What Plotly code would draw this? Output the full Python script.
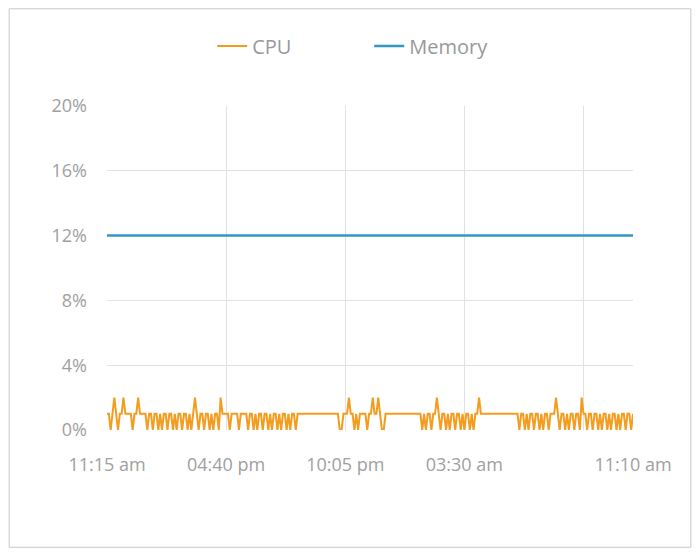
import datetime
import plotly.graph_objects as go

# --- data: one sample every 5 minutes, 11:15 am -> 11:10 am next day (288 points)
start = datetime.datetime(2020, 1, 1, 11, 15)
time_labels = [(start + datetime.timedelta(minutes=5 * i)).strftime("%I:%M %p").lower()
               for i in range(288)]

cpu = [
    1, 1, 0, 1, 2, 1, 0, 1, 1, 2, 1, 1, 1, 1, 0, 1, 1, 2, 1, 1, 1, 1, 0, 1,
    1, 0, 1, 1, 0, 1, 0, 1, 1, 0, 1, 1, 0, 1, 0, 1, 1, 0, 1, 1, 0, 1, 0, 1,
    2, 1, 0, 1, 1, 0, 1, 1, 0, 1, 0, 1, 1, 0, 2, 1, 1, 1, 1, 0, 1, 1, 1, 1,
    0, 1, 1, 1, 1, 0, 1, 1, 0, 1, 0, 1, 1, 0, 1, 1, 0, 1, 0, 1, 1, 0, 1, 0,
    1, 1, 0, 1, 0, 1, 1, 0, 1, 1, 1, 1, 1, 1, 1, 1, 1, 1, 1, 1, 1, 1, 1, 1,
    1, 1, 1, 1, 1, 1, 1, 0, 0, 1, 1, 1, 2, 1, 1, 0, 1, 0, 1, 1, 1, 1, 0, 1,
    1, 2, 1, 1, 2, 1, 0, 0, 1, 1, 1, 1, 1, 1, 1, 1, 1, 1, 1, 1, 1, 1, 1, 1,
    1, 1, 1, 1, 0, 1, 0, 1, 1, 0, 1, 1, 2, 1, 0, 1, 1, 0, 1, 0, 1, 1, 0, 1,
    1, 0, 1, 0, 1, 1, 0, 1, 0, 1, 1, 2, 1, 1, 1, 1, 1, 1, 1, 1, 1, 1, 1, 1,
    1, 1, 1, 1, 1, 1, 1, 1, 1, 0, 1, 1, 0, 1, 0, 1, 1, 0, 1, 1, 0, 1, 0, 1,
    1, 0, 1, 1, 1, 2, 1, 0, 1, 1, 0, 1, 0, 1, 1, 0, 1, 1, 0, 2, 1, 1, 0, 1,
    1, 0, 1, 1, 0, 1, 0, 1, 1, 0, 1, 0, 1, 1, 0, 1, 0, 1, 1, 0, 1, 1, 0, 1,
]
memory = [12] * 288

label_idx = [0, 65, 130, 195, 287]   # labelled ticks
grid_idx = [0, 65, 130, 195, 260]    # vertical grid lines

x = list(range(len(cpu)))

fig = go.Figure()
fig.add_trace(go.Scatter(x=x, y=cpu, name="CPU", mode="lines",
                         line=dict(color="#f39c1e", width=2)))
fig.add_trace(go.Scatter(x=x, y=memory, name="Memory", mode="lines",
                         line=dict(color="#3397c6", width=2.5)))

grid = "#e2e2e2"
# page has an 8px body margin, so the figure is a bit smaller than the window
fig.update_layout(
    width=684, height=540,
    margin=dict(l=99, r=59, t=98, b=118),
    paper_bgcolor="white", plot_bgcolor="white",
    font=dict(family="Open Sans, Noto Sans, sans-serif", color="#a0a0a0", size=18),
    showlegend=True,
    legend=dict(orientation="h", x=0.2, xanchor="left", y=1.185, yanchor="middle",
                font=dict(size=20, color="#999999"), itemwidth=30,
                entrywidth=112),
    xaxis=dict(
        range=[0, 287], showline=False, zeroline=False, showgrid=False,
        tickmode="array", tickvals=label_idx,
        ticktext=[time_labels[i] for i in label_idx],
        ticks="", ticklabelstandoff=22,
        minor=dict(tickmode="array", tickvals=grid_idx, showgrid=True,
                   gridcolor=grid, gridwidth=1, ticks=""),
    ),
    yaxis=dict(
        range=[0, 20], dtick=4, ticksuffix="%", showgrid=True, gridcolor=grid,
        zeroline=False, showline=False, ticks="", ticklabelstandoff=19,
    ),
    shapes=[dict(type="rect", xref="paper", yref="paper",
                 x0=-0.186, x1=1.110, y0=-0.362, y1=1.300,
                 line=dict(color="#c8c8c8", width=1), layer="below")],
)

fig.write_html("out.html")
